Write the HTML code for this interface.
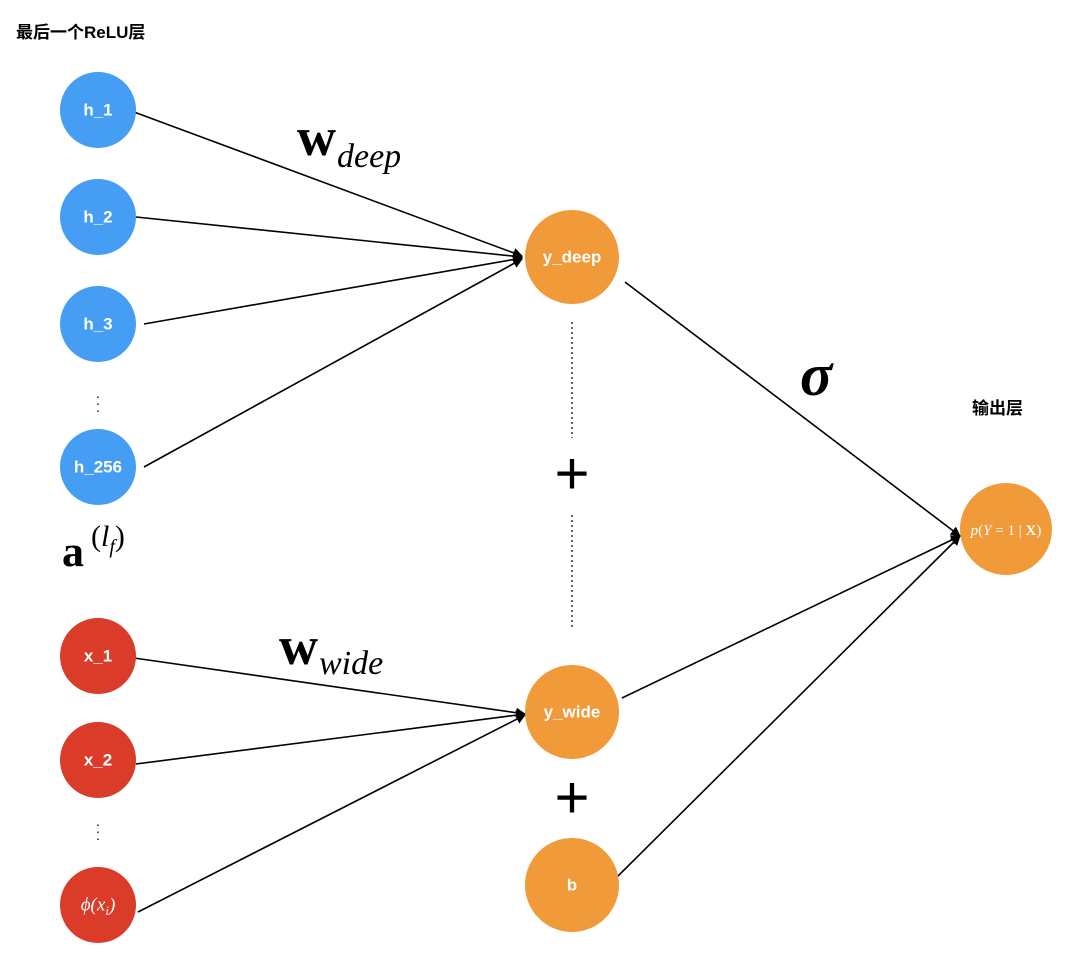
<!DOCTYPE html>
<html><head><meta charset="utf-8"><style>
html,body{margin:0;padding:0;background:#fff;}
svg{display:block;}
.w{font-family:"Liberation Sans",sans-serif;font-weight:bold;fill:#fff;font-size:17px;text-anchor:middle;dominant-baseline:central;}
.m{font-family:"Liberation Serif",serif;}
</style></head><body>
<svg width="1080" height="957" viewBox="0 0 1080 957" xmlns="http://www.w3.org/2000/svg">
<defs><marker id="a" markerWidth="10" markerHeight="10" refX="9" refY="5" orient="auto" markerUnits="userSpaceOnUse"><path d="M0,0 L10,5 L0,10 z" fill="#000"/></marker></defs>
<g stroke="#000" stroke-width="1.6" fill="none" marker-end="url(#a)">
<line x1="134" y1="112" x2="522" y2="256"/>
<line x1="136" y1="217" x2="522" y2="257"/>
<line x1="144" y1="324" x2="522" y2="258"/>
<line x1="144" y1="467" x2="522" y2="259"/>
<line x1="134" y1="658" x2="525" y2="714"/>
<line x1="136" y1="764" x2="525" y2="714"/>
<line x1="138" y1="912" x2="525" y2="715"/>
<line x1="625" y1="282" x2="960" y2="536"/>
<line x1="622" y1="698" x2="960" y2="536"/>
<line x1="617" y1="877" x2="960" y2="536"/>
</g>
<g stroke="#000" stroke-width="1.2" stroke-dasharray="2,3">
<line x1="572" y1="322" x2="572" y2="438"/>
<line x1="572" y1="515" x2="572" y2="630"/>
</g>
<g fill="#459df4">
<circle cx="98" cy="110" r="38"/><circle cx="98" cy="217" r="38"/><circle cx="98" cy="324" r="38"/><circle cx="98" cy="467" r="38"/>
</g>
<g fill="#db3c29">
<circle cx="98" cy="656" r="38"/><circle cx="98" cy="760" r="38"/><circle cx="98" cy="905" r="38"/>
</g>
<g fill="#f09a39">
<circle cx="572" cy="257" r="47"/><circle cx="572" cy="712" r="47"/><circle cx="572" cy="885" r="47"/><circle cx="1006" cy="529" r="46"/>
</g>
<text class="w" x="98" y="110">h_1</text>
<text class="w" x="98" y="217">h_2</text>
<text class="w" x="98" y="324">h_3</text>
<text class="w" x="98" y="467">h_256</text>
<text class="w" x="98" y="656">x_1</text>
<text class="w" x="98" y="760">x_2</text>
<text class="w m" x="98" y="905" style="font-weight:normal;font-style:italic;font-size:19px">ϕ(x<tspan font-size="13" dy="5">i</tspan><tspan dy="-5">)</tspan></text>
<text class="w" x="572" y="257">y_deep</text>
<text class="w" x="572" y="712">y_wide</text>
<text class="w" x="572" y="885">b</text>
<text class="w m" x="1006" y="531" style="font-weight:normal;font-size:15px"><tspan font-style="italic">p</tspan>(<tspan font-style="italic">Y</tspan> = 1 | <tspan font-weight="bold">X</tspan>)</text>
<g font-family="Liberation Sans" font-size="14" fill="#000">
<text x="98" y="398" text-anchor="middle">.</text><text x="98" y="405" text-anchor="middle">.</text><text x="98" y="412" text-anchor="middle">.</text>
<text x="98" y="826" text-anchor="middle">.</text><text x="98" y="833" text-anchor="middle">.</text><text x="98" y="840" text-anchor="middle">.</text>
</g>
<text x="16" y="38" font-family="Liberation Sans,'Noto Sans CJK SC',sans-serif" font-weight="bold" font-size="17">最后一个ReLU层</text>
<text x="972" y="414" font-family="Liberation Sans,'Noto Sans CJK SC',sans-serif" font-weight="bold" font-size="17">输出层</text>
<text x="297" y="155" class="m" font-size="54" font-weight="bold">w</text>
<text x="337" y="167" class="m" font-size="34" font-style="italic">deep</text>
<text x="279" y="664" class="m" font-size="54" font-weight="bold">w</text>
<text x="319" y="674" class="m" font-size="34" font-style="italic">wide</text>
<text x="800" y="395" class="m" font-size="60" font-style="italic" font-weight="bold">σ</text>
<text x="62" y="566" class="m" font-size="44" font-weight="bold">a</text>
<text x="91" y="546" class="m" font-size="30">(<tspan font-style="italic">l</tspan><tspan font-style="italic" font-size="20" dy="7">f</tspan><tspan dy="-7">)</tspan></text>
<text x="572" y="494" text-anchor="middle" font-family="Liberation Sans" font-size="60">+</text>
<text x="572" y="818" text-anchor="middle" font-family="Liberation Sans" font-size="60">+</text>
</svg>
</body></html>
